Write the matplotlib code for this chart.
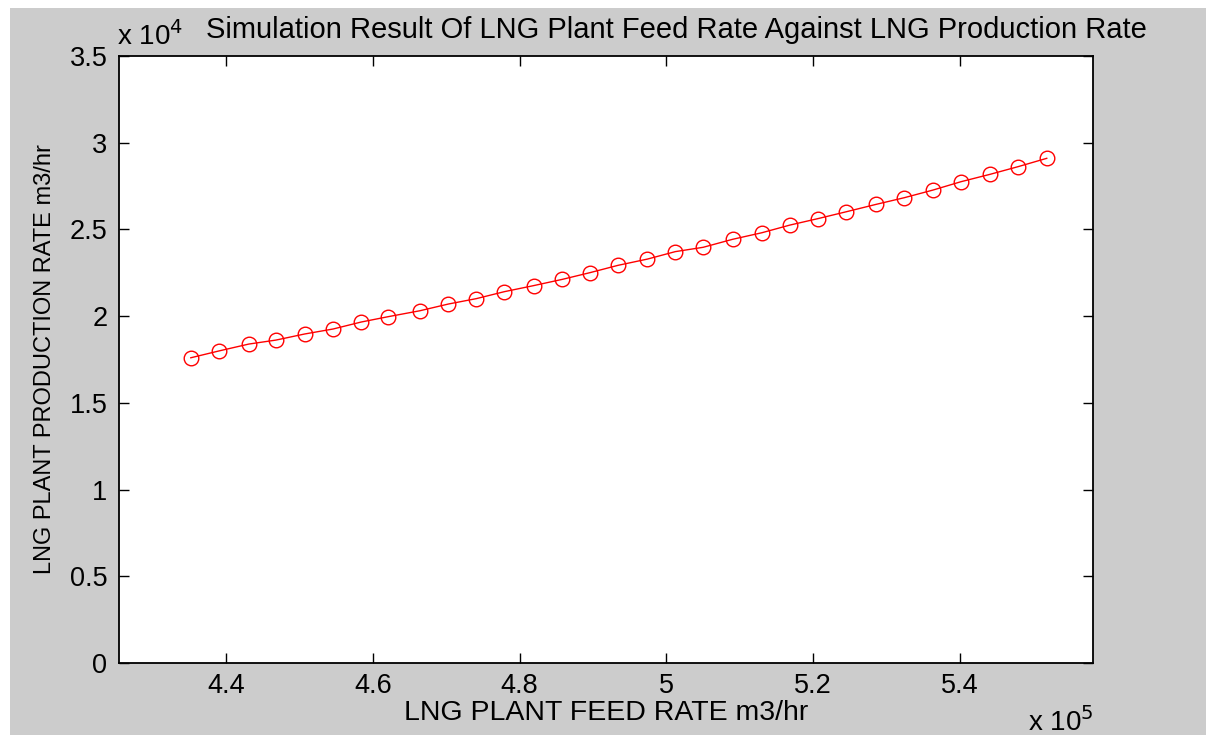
import matplotlib
matplotlib.use('Agg')
import matplotlib.pyplot as plt
from matplotlib.patches import Rectangle

# Feed rate (x 10^5 m3/hr) and production rate (x 10^4 m3/hr)
feed_rate = [4.352, 4.390, 4.431, 4.468, 4.507, 4.546, 4.584, 4.621, 4.664, 4.703,
             4.741, 4.779, 4.819, 4.858, 4.896, 4.934, 4.974, 5.012, 5.050, 5.090,
             5.130, 5.168, 5.206, 5.245, 5.286, 5.324, 5.363, 5.401, 5.441, 5.479,
             5.518]
production_rate = [1.760, 1.799, 1.839, 1.862, 1.897, 1.926, 1.966, 1.997, 2.031, 2.070,
                   2.101, 2.141, 2.176, 2.212, 2.251, 2.293, 2.329, 2.372, 2.397, 2.443,
                   2.481, 2.525, 2.562, 2.602, 2.645, 2.683, 2.727, 2.775, 2.818, 2.862,
                   2.910]

x_ticks = [4.4, 4.6, 4.8, 5.0, 5.2, 5.4]
x_ticklabels = ['4.4', '4.6', '4.8', '5', '5.2', '5.4']
y_ticks = [0, 0.5, 1, 1.5, 2, 2.5, 3, 3.5]
y_ticklabels = ['0', '0.5', '1', '1.5', '2', '2.5', '3', '3.5']

plt.rcParams['font.family'] = ['Liberation Sans', 'DejaVu Sans']

W, H = 1206, 735
fig = plt.figure(figsize=(W / 100, H / 100), dpi=100, facecolor='white')
# gray MATLAB figure area (small white strip on top and left)
fig.patches.append(Rectangle((10 / W, 0), 1, 1 - 8 / H, transform=fig.transFigure,
                             facecolor='#cccccc', edgecolor='none', zorder=-10))

ax = fig.add_axes([118.5 / W, 1 - 663 / H, (1093 - 118.5) / W, (663 - 56) / H])
ax.set_facecolor('white')

ax.plot(feed_rate, production_rate, '-', color='red', linewidth=1.0,
        marker='o', markersize=10.5, markerfacecolor='none',
        markeredgecolor='red', markeredgewidth=1.0)

ax.set_xlim(4.2535, 5.581)
ax.set_ylim(0, 3.5)
ax.set_xticks(x_ticks)
ax.set_xticklabels(x_ticklabels)
ax.set_yticks(y_ticks)
ax.set_yticklabels(y_ticklabels)

ax.tick_params(direction='in', length=7, width=1.0, top=True, right=True,
               labelsize=19.5, colors='black')
ax.tick_params(axis='x', pad=7)
ax.tick_params(axis='y', pad=8)
for s in ax.spines.values():
    s.set_linewidth(1.3)

ax.set_xlabel('LNG PLANT FEED RATE m3/hr', fontsize=20.5, labelpad=1)
ax.set_ylabel('LNG PLANT PRODUCTION RATE m3/hr', fontsize=17, labelpad=10)

fig.text(676 / W, 1 - 30 / H,
         'Simulation Result Of LNG Plant Feed Rate Against LNG Production Rate',
         ha='center', va='center', fontsize=21)
fig.text(117 / W, 1 - 36 / H, r'x 10$^4$', ha='left', va='center', fontsize=20)
fig.text(1093 / W, 1 - 722 / H, r'x 10$^5$', ha='right', va='center', fontsize=20)

fig.savefig('out.png', dpi=100, facecolor=fig.get_facecolor())
